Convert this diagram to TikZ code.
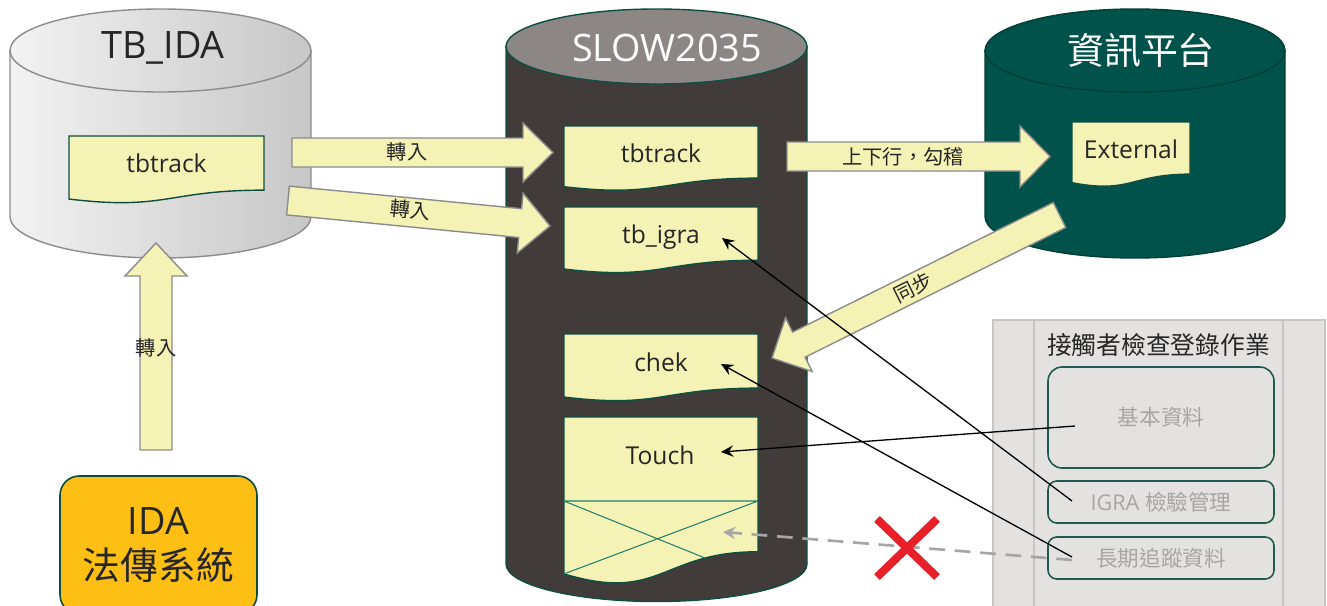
\documentclass[tikz,border=0pt]{standalone}
\usepackage{fontspec}
\setmainfont{Open Sans}
\newfontfamily\cjk{Noto Sans CJK TC}
\usetikzlibrary{calc,arrows.meta,shapes.misc}

\definecolor{ink}{HTML}{262626}
\definecolor{docfill}{HTML}{F5F2B6}
\definecolor{docline}{HTML}{0E4D41}
\definecolor{arrowline}{HTML}{8C8C8C}
\definecolor{slowbody}{HTML}{413C39}
\definecolor{slowtop}{HTML}{8C8785}
\definecolor{infofill}{HTML}{00524A}
\definecolor{infoline}{HTML}{003F35}
\definecolor{panelfill}{HTML}{E3E2E1}
\definecolor{panelline}{HTML}{C6C6C6}
\definecolor{boxline}{HTML}{1E5A4D}
\definecolor{greytext}{HTML}{A6A6A6}
\definecolor{idafill}{HTML}{FDBF14}
\definecolor{crossred}{HTML}{E8202A}
\definecolor{touchline}{HTML}{23806C}
\definecolor{idaline}{HTML}{0D4A40}

% cylinder: #1 body style, #2 lid style, #3 cx, #4 rx, #5 lid cy, #6 base cy, #7 ry
\newcommand\cyl[7]{%
  \path[#1] ({#3-#4},#5) -- ({#3-#4},#6)
    .. controls ({#3-#4},{#6+0.5523*#7}) and ({#3-0.5523*#4},{#6+#7}) .. (#3,{#6+#7})
    .. controls ({#3+0.5523*#4},{#6+#7}) and ({#3+#4},{#6+0.5523*#7}) .. ({#3+#4},#6)
    -- ({#3+#4},#5) -- cycle;
  \path[#2] ({#3+#4},#5)
    .. controls ({#3+#4},{#5+0.5523*#7}) and ({#3+0.5523*#4},{#5+#7}) .. (#3,{#5+#7})
    .. controls ({#3-0.5523*#4},{#5+#7}) and ({#3-#4},{#5+0.5523*#7}) .. ({#3-#4},#5)
    .. controls ({#3-#4},{#5-0.5523*#7}) and ({#3-0.5523*#4},{#5-#7}) .. (#3,{#5-#7})
    .. controls ({#3+0.5523*#4},{#5-#7}) and ({#3+#4},{#5-0.5523*#7}) .. ({#3+#4},#5) -- cycle;
}

% document sheet with a wavy lower edge: #1 left, #2 top, #3 width, #4 height
\newcommand\docshape[4]{%
  \draw[docsheet] (#1,#2) -- ({#1+#3},#2) -- ({#1+#3},{#2+0.802*#4})
    .. controls ({#1+0.5*#3},{#2+0.802*#4}) and ({#1+0.5*#3},{#2+1.1075*#4}) .. (#1,{#2+0.934*#4}) -- cycle;
}

\begin{document}
\begin{tikzpicture}[x=0.02cm,y=-0.02cm,
  docsheet/.style={draw=docline,fill=docfill,line width=0.8pt},
  doctext/.style={font=\fontsize{14}{16}\selectfont,text=ink},
  dbtitle/.style={font=\fontsize{21.5}{24}\selectfont},
  blockarrow/.style={fill=docfill,draw=arrowline,line width=0.8pt,line join=miter},
  arrowlabel/.style={font=\cjk\fontsize{11.5}{13}\selectfont,text=ink,inner sep=0pt},
  stepbox/.style={draw=boxline,line width=0.9pt,minimum width=226*0.02cm,
    font=\cjk\fontsize{12.3}{14}\selectfont,text=greytext},
  link/.style={draw=black,line width=0.75pt,-{Stealth[length=7pt,width=6.5pt,inset=2.5pt]}},
  blocked/.style={draw=greytext,line width=1.5pt,dash pattern=on 9pt off 5.5pt,
    -{Stealth[length=7pt,width=7pt,inset=2.5pt]}},
]
\clip (0,0) rectangle (1327,605);
\fill[white] (0,0) rectangle (1327,605);

% ---- databases ----
\cyl{draw=arrowline,line width=0.8pt,left color=black!5,middle color=black!9,right color=black!22}
    {draw=arrowline,line width=0.8pt,left color=black!5,middle color=black!9,right color=black!22}
    {160.5}{150.5}{50.5}{216.5}{41.5}
\cyl{draw=docline,line width=0.8pt,fill=slowbody}{draw=docline,line width=0.8pt,fill=slowtop}
    {656.5}{150.5}{46.5}{564}{37.5}
\cyl{draw=infoline,line width=0.8pt,fill=infofill}{draw=infoline,line width=0.8pt,fill=infofill}
    {1135}{150}{50.5}{216.5}{41.5}

\node[dbtitle,text=ink] (tbida) at (163,48) {TB\_IDA};
\node[dbtitle,text=white] (slow) at (667,48) {SLOW2035};
\node[dbtitle,text=white,font=\cjk\fontsize{21}{24}\selectfont] (info) at (1141,50) {資訊平台};

% ---- tables ----
\docshape{69}{136}{195}{67.5}
\node[doctext] (tbtrackA) at (166.5,163) {tbtrack};

\docshape{564}{126}{194}{65}
\node[doctext] (tbtrackB) at (661,153) {tbtrack};

\docshape{564}{207}{194}{66.4}
\node[doctext] (tbigra) at (661,237) {tb\_igra};

\docshape{564}{334}{194}{67.5}
\node[doctext] (chek) at (661,362) {chek};

\docshape{564}{417}{194}{168}
\draw[touchline,line width=0.6pt] (564,501) -- (758,501)
  (564,501) -- (705,558) (758,501) -- (564,573.9);
\node[doctext] (touch) at (660,455) {Touch};

\docshape{1072}{122}{118}{65}
\node[doctext] (external) at (1131,149) {External};

% ---- transfer arrows ----
\draw[blockarrow] (292,138) -- (523,138) -- (523,123) -- (553,152.5) -- (523,182) -- (523,167) -- (292,167) -- cycle;
\node[arrowlabel] (lblA) at (407,152) {轉入};

\draw[blockarrow] (289.4,186.1) -- (521.6,208.7) -- (523.1,193.2) -- (550,226) -- (517.2,253) -- (518.7,237.5) -- (286.6,214.9) -- cycle;
\node[arrowlabel,rotate=-5.56] (lblB) at (410,210) {轉入};

\draw[blockarrow] (787,142) -- (1020,142) -- (1020,126) -- (1050,156.5) -- (1020,187) -- (1020,171) -- (787,171) -- cycle;
\node[arrowlabel] (lblC) at (903,157) {上下行，勾稽};

\draw[blockarrow] (140,450) -- (140,276) -- (125,276) -- (156,243) -- (187,276) -- (172,276) -- (172,450) -- cycle;
\node[arrowlabel] (lblD) at (156,348) {轉入};

\draw[blockarrow] (1053.3,202.5) -- (792.6,332.1) -- (785.5,317.8) -- (772,358) -- (812.2,371.5) -- (805.1,357.2) -- (1065.7,227.5) -- cycle;
\node[arrowlabel,rotate=26.45] (lblE) at (913,288) {同步};

% ---- source system ----
\node[draw=idaline,line width=0.9pt,fill=idafill,rounded corners=11pt,
      minimum width=197*0.02cm,minimum height=138*0.02cm,
      align=center,font=\fontsize{21.5}{25.5}\selectfont,text=ink] (ida) at (158.5,545)
      {IDA\\{\cjk 法傳系統}};

% ---- registration panel ----
\fill[panelfill] (993,320) rectangle (1325,615);
\draw[panelline,line width=1.1pt] (993,615) -- (993,320) -- (1325,320) -- (1325,615)
  (1034,320) -- (1034,615) (1283,320) -- (1283,615);
\node[font=\cjk\fontsize{14.1}{16}\selectfont,text=ink] (panel) at (1158.5,345) {接觸者檢查登錄作業};
\node[stepbox,rounded corners=8pt,minimum height=101*0.02cm] (basic) at (1161,417.5) {基本資料};
\node[stepbox,rounded corners=5pt,minimum height=42*0.02cm] (igra) at (1161,502) {\fontsize{12.3}{14}\selectfont\rmfamily IGRA {\cjk 檢驗管理}};
\node[stepbox,rounded corners=5pt,minimum height=42*0.02cm] (longterm) at (1161,558) {長期追蹤資料};

% ---- data links ----
\draw[link] ($(igra.center)+(-89,-1)$) -- ($(tbigra.center)+(61,1)$);
\draw[link] ($(longterm.center)+(-89,-1)$) -- ($(chek.center)+(60,2)$);
\draw[link] ($(basic.center)+(-86,8.5)$) -- ($(touch.center)+(61,-3)$);
\draw[blocked] ($(longterm.center)+(-89,2)$) -- ($(touch.center)+(63,77)$);

\node[cross out,draw=crossred,line width=4.6pt,minimum width=52*0.02cm,minimum height=50*0.02cm,inner sep=0pt] (stop) at (907,548) {};
\end{tikzpicture}
\end{document}
